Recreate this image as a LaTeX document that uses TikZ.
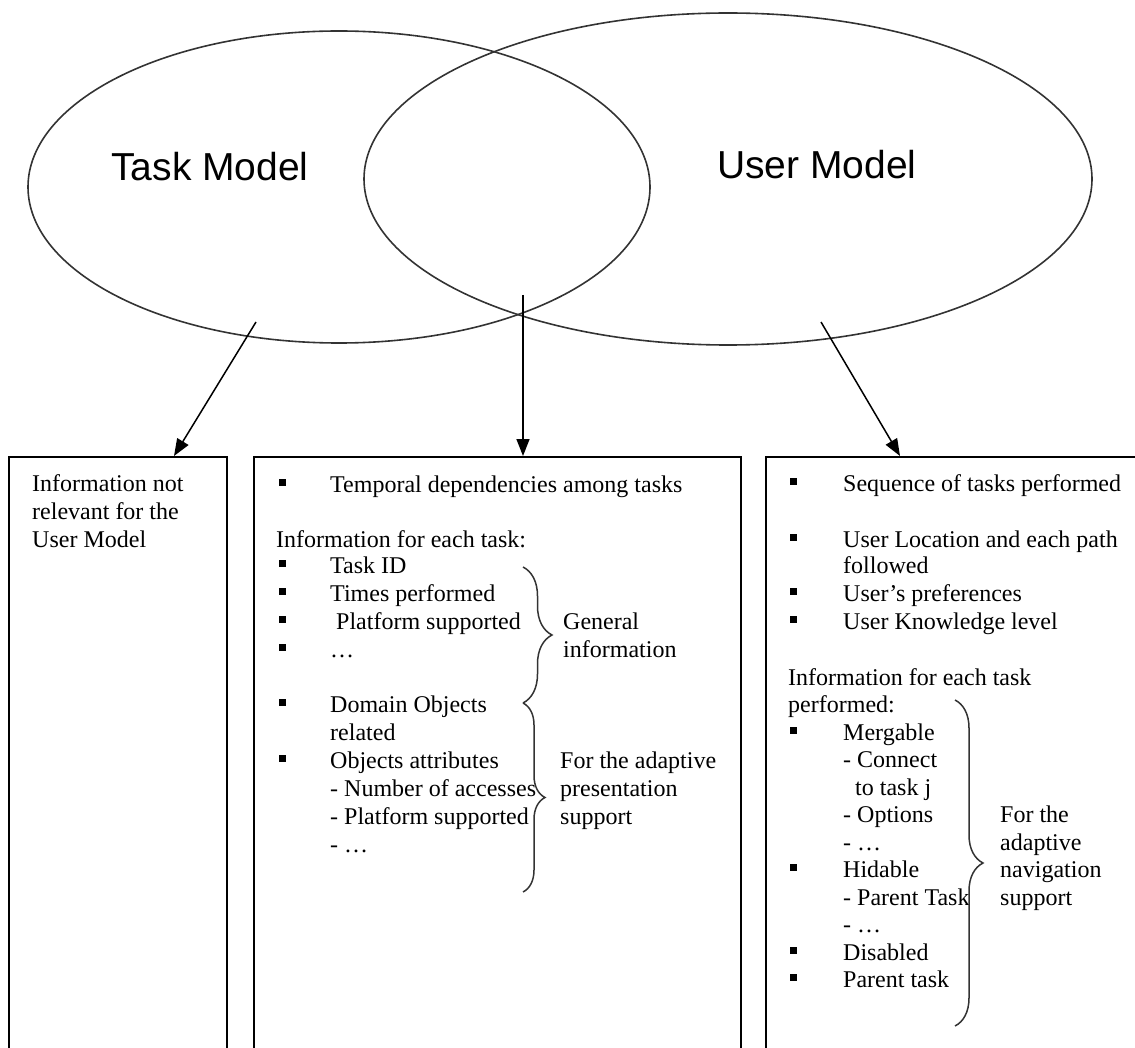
\documentclass[tikz,border=0pt]{standalone}
\usepackage{fontspec}
\setmainfont{Liberation Serif}
\newfontfamily\labelfont{Liberation Sans}
\usetikzlibrary{arrows.meta,decorations.pathreplacing,shapes.geometric}
\begin{document}
\begin{tikzpicture}[x=1pt,y=-1pt,
  txt/.style={anchor=base west, inner sep=0pt, font=\fontsize{24}{28}\selectfont},
  modellabel/.style={inner sep=0pt, font=\labelfont\fontsize{39}{44}\selectfont},
  venn/.style={draw=black!80, line width=1.6pt, ellipse, inner sep=0pt},
  infobox/.style={draw=black, line width=1.6pt, rectangle, inner sep=0pt, anchor=north west, minimum height=640pt},
  bul/.style={fill=black, inner sep=0pt, minimum width=7pt, minimum height=7pt, rectangle},
  conn/.style={line width=1.5pt, -{Triangle[length=17pt,width=13pt]}},
  cbrace/.style={draw=black!80, line width=1.5pt, decorate, decoration={brace, amplitude=#1}}
]
\path[use as bounding box] (0,0) rectangle (1135,1048);
\clip (0,0) rectangle (1135,1048);

% Venn ellipses
\node[venn, minimum width=622pt, minimum height=312pt] (tm) at (339,187) {};
\node[venn, minimum width=728pt, minimum height=332pt] (um) at (728,179) {};
\node[modellabel] (tml) at (210,167) {Task Model};
\node[modellabel] (uml) at (817,165) {User Model};

% Boxes
\node[infobox, minimum width=218pt] (lbox) at (8,456) {};
\node[infobox, minimum width=487pt] (mbox) at (253,456) {};
\node[infobox, minimum width=420pt] (rbox) at (765,456) {};

% Connectors
\coordinate (a1s) at (256,322); \coordinate (a1e) at (174,456);
\coordinate (a2s) at (523,295); \coordinate (a2e) at (523,456);
\coordinate (a3s) at (821,322); \coordinate (a3e) at (900,456);
\draw[conn] (a1s) -- (a1e);
\draw[conn] (a2s) -- (a2e);
\draw[conn] (a3s) -- (a3e);

% Left box
\node[txt] (l1) at (32,491) {Information not};
\node[txt] (l2) at (32,519) {relevant for the};
\node[txt] (l3) at (32,547) {User Model};

% Middle box
\node[bul] (mb1) at (282,482) {};
\node[txt] (m1) at (330,492) {Temporal dependencies among tasks};
\node[txt] (m2) at (276,547) {Information for each task:};
\node[bul] (mb2) at (282,563) {};
\node[txt] (m3) at (330,573) {Task ID};
\node[bul] (mb3) at (282,591) {};
\node[txt] (m4) at (330,601) {Times performed};
\node[bul] (mb4) at (282,619) {};
\node[txt] (m5) at (336,629) {Platform supported};
\node[bul] (mb5) at (282,647) {};
\node[txt] (m6) at (330,657) {…};
\node[bul] (mb6) at (282,702) {};
\node[txt] (m7) at (330,712) {Domain Objects};
\node[txt] (m8) at (330,740) {related};
\node[bul] (mb7) at (282,758) {};
\node[txt] (m9) at (330,768) {Objects attributes};
\node[txt] (m10) at (330,796) {- Number of accesses};
\node[txt] (m11) at (330,824) {- Platform supported};
\node[txt] (m12) at (330,852) {- …};

\draw[cbrace=29pt] (523,567) -- (523,703);
\draw[cbrace=22pt] (523,703) -- (523,892);

\node[txt] (g1) at (563,629) {General};
\node[txt] (g2) at (563,657) {information};
\node[txt] (p1) at (560,768) {For the adaptive};
\node[txt] (p2) at (560,796) {presentation};
\node[txt] (p3) at (560,824) {support};

% Right box
\node[bul] (rb1) at (793,481) {};
\node[txt] (r1) at (843,491) {Sequence of tasks performed};
\node[bul] (rb2) at (793,537) {};
\node[txt] (r2) at (843,547) {User Location and each path};
\node[txt] (r3) at (843,573) {followed};
\node[bul] (rb3) at (793,591) {};
\node[txt] (r4) at (843,601) {User’s preferences};
\node[bul] (rb4) at (793,619) {};
\node[txt] (r5) at (843,629) {User Knowledge level};
\node[txt] (r6) at (788,685) {Information for each task};
\node[txt] (r7) at (788,712.5) {performed:};
\node[bul] (rb5) at (793,730) {};
\node[txt] (r8) at (843,740) {Mergable};
\node[txt] (r9) at (843,767.5) {- Connect};
\node[txt] (r10) at (855,795) {to task j};
\node[txt] (r11) at (843,822.5) {- Options};
\node[txt] (r12) at (843,850) {- …};
\node[bul] (rb6) at (793,867.5) {};
\node[txt] (r13) at (843,877.5) {Hidable};
\node[txt] (r14) at (843,905) {- Parent Task};
\node[txt] (r15) at (843,932.5) {- …};
\node[bul] (rb7) at (793,950) {};
\node[txt] (r16) at (843,960) {Disabled};
\node[bul] (rb8) at (793,977.5) {};
\node[txt] (r17) at (843,987.5) {Parent task};

\draw[cbrace=28pt] (955,700) -- (955,1026);

\node[txt] (n1) at (1000,822.5) {For the};
\node[txt] (n2) at (1000,850) {adaptive};
\node[txt] (n3) at (1000,877.5) {navigation};
\node[txt] (n4) at (1000,905) {support};
\end{tikzpicture}
\end{document}
